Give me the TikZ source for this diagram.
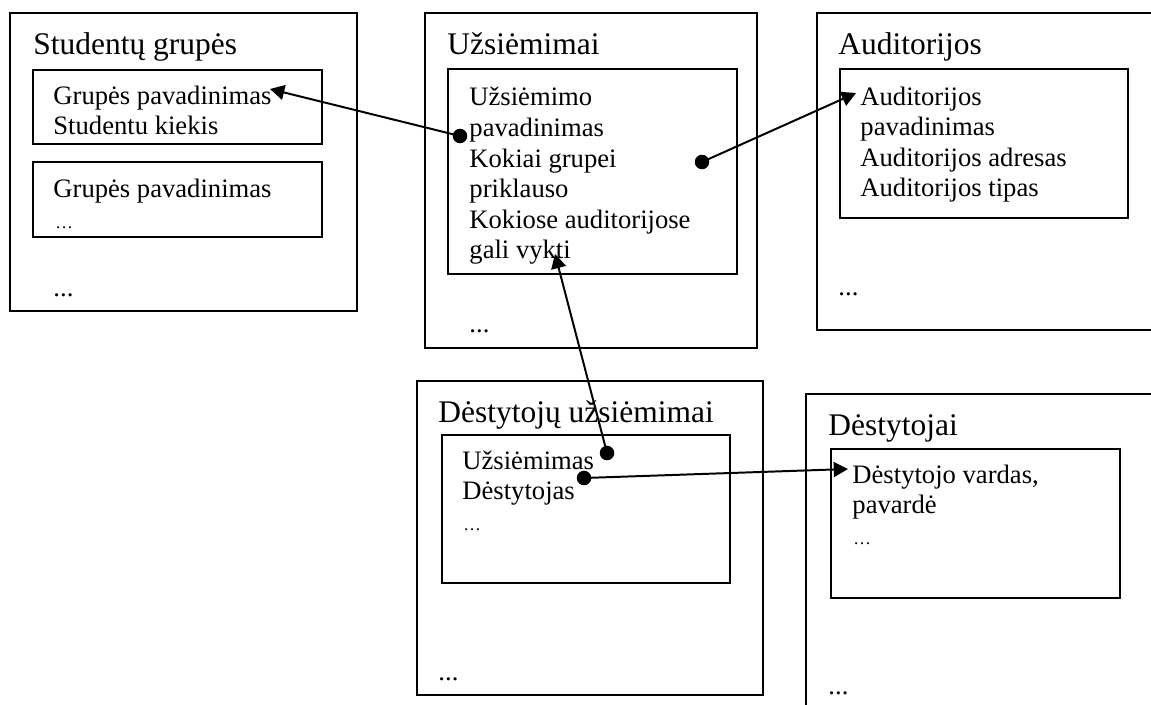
\documentclass[tikz,border=0pt]{standalone}
\usepackage{fontspec}
\setmainfont{Liberation Serif}
\usetikzlibrary{arrows.meta,fit}
\begin{document}
\begin{tikzpicture}[x=0.4545pt,y=-0.4545pt,
  frame/.style={draw, line width=1pt, inner sep=0pt},
  title/.style={anchor=base west, inner sep=0pt, font=\fontsize{14.3}{17}\selectfont},
  item/.style={anchor=base west, inner sep=0pt, font=\fontsize{12.1}{14}\selectfont},
  more/.style={anchor=base west, inner sep=0pt, font=\fontsize{8}{9.6}\selectfont},
  dot/.style={circle, fill, inner sep=0pt, minimum size=6.6pt},
  link/.style={line width=0.9pt, -{Triangle[length=6.5pt,width=6.8pt]}}
]
\useasboundingbox (0,0) rectangle (1151,704);
\clip (0,0) rectangle (1151,704);

% Studentų grupės
\node[frame, fit={(10,13) (357,311)}] (sg) {};
\node[frame, fit={(33,70) (322,144)}] (sg1) {};
\node[frame, fit={(33,162) (322,237)}] (sg2) {};
\node[title] (sgt) at (33,55) {Studentų grupės};
\node[item] (sga) at (53,104) {Grupės pavadinimas};
\node[item] (sgb) at (53,134.5) {Studentu kiekis};
\node[item] (sgc) at (53,197) {Grupės pavadinimas};
\node[more] (sgd) at (55,228) {…};
\node[item] (sge) at (53,296) {...};

% Užsiėmimai
\node[frame, fit={(425,13) (757,348)}] (uz) {};
\node[frame, fit={(448,69) (737,274)}] (uz1) {};
\node[title] (uzt) at (447,55) {Užsiėmimai};
\foreach \t [count=\i] in {Užsiėmimo, pavadinimas, Kokiai grupei, priklauso, Kokiose auditorijose, gali vykti}
  \node[item, name=uz\i] at (469, {106+30.5*(\i-1)}) {\t};
\node[item] (uze) at (469,332) {...};

% Auditorijos
\node[frame, fit={(817,13) (1170,330)}] (au) {};
\node[frame, fit={(840,69) (1128,218)}] (au1) {};
\node[title] (aut) at (838,55) {Auditorijos};
\foreach \t [count=\i] in {Auditorijos, pavadinimas, Auditorijos adresas, Auditorijos tipas}
  \node[item, name=au\i] at (860, {105+30.5*(\i-1)}) {\t};
\node[item] (aue) at (838,295) {...};

% Dėstytojų užsiėmimai
\node[frame, fit={(417,381) (763,695)}] (du) {};
\node[frame, fit={(442,435) (730,583)}] (du1) {};
\node[title] (dut) at (438,422) {Dėstytojų užsiėmimai};
\node[item] (dua) at (462,469) {Užsiėmimas};
\node[item] (dub) at (462,499.5) {Dėstytojas};
\node[more] (duc) at (463,530) {…};
\node[item] (due) at (438,680) {...};

% Dėstytojai
\node[frame, fit={(806,394) (1170,720)}] (de) {};
\node[frame, fit={(831,449) (1120,598)}] (de1) {};
\node[title] (det) at (828,435) {Dėstytojai};
\node[item] (dea) at (852,483) {Dėstytojo vardas,};
\node[item] (deb) at (852,513.5) {pavardė};
\node[more] (dec) at (853,544) {…};
\node[item] (dee) at (828,694) {...};

% references between fields
\node[dot] (d1) at (460,136) {};
\node[dot] (d2) at (702,162) {};
\node[dot] (d3) at (607,453) {};
\node[dot] (d4) at (584,478) {};
\coordinate (t1) at (270,89);
\coordinate (t2) at (856,93);
\coordinate (t3) at (555,254);
\coordinate (t4) at (848,469);
\draw[link] (d1.center) -- (t1);
\draw[link] (d2.center) -- (t2);
\draw[link] (d3.center) -- (t3);
\draw[link] (d4.center) -- (t4);
\end{tikzpicture}
\end{document}
